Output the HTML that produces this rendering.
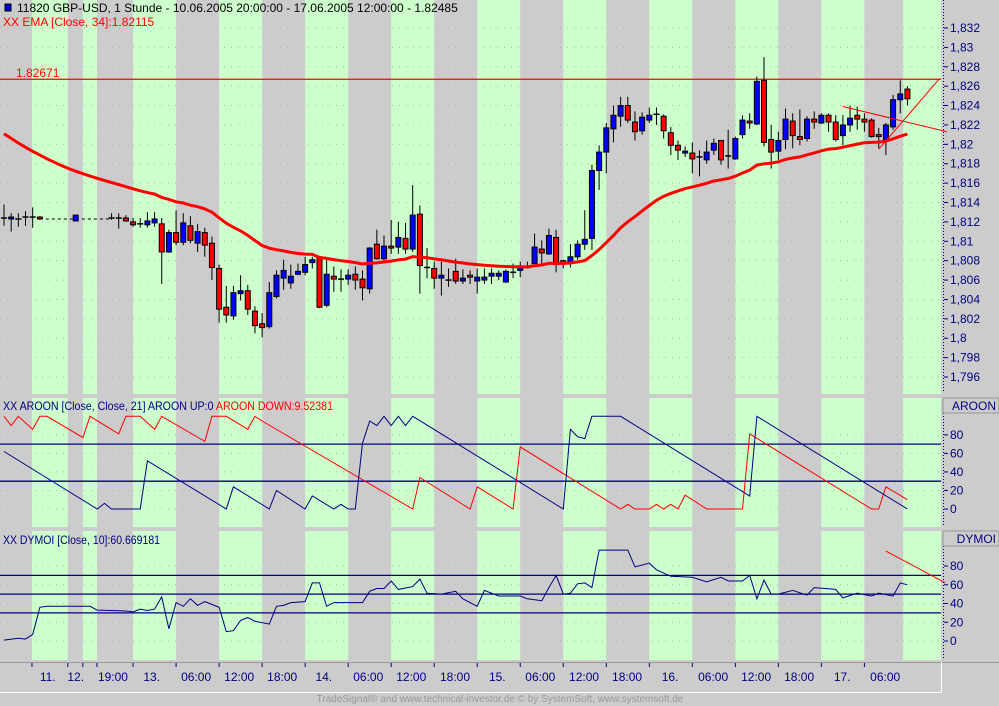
<!DOCTYPE html>
<html><head><meta charset="utf-8"><style>
html,body{margin:0;padding:0;background:#cccccc;}
svg{display:block;font-family:"Liberation Sans",sans-serif;}
</style></head><body>
<svg id="chart" width="999" height="706" viewBox="0 0 999 706" xmlns="http://www.w3.org/2000/svg">
<rect x="0" y="0" width="999" height="706" fill="#cccccc"/>
<g id="stripes"></g>
<g id="grid"></g>
<g id="main"></g>
<g id="aroon"></g>
<g id="dymoi"></g>
<g id="axes"></g>
<g id="texts">
  <rect x="5" y="4" width="6" height="7" fill="#0000cc" stroke="#000" stroke-width="1"/>
  <text x="17" y="12" font-size="12" fill="#000">11820  GBP-USD, 1 Stunde - 10.06.2005 20:00:00 - 17.06.2005 12:00:00 - 1.82485</text>
  <text x="3" y="26" font-size="12" fill="#ff0000">XX EMA [Close, 34]:1.82115</text>
  <text x="16" y="77" font-size="12" fill="#ff0000">1.82671</text>
  <text x="3" y="410" font-size="12" fill="#000080" textLength="330" lengthAdjust="spacingAndGlyphs">XX AROON [Close, Close, 21] AROON UP:0 <tspan fill="#ff0000">AROON DOWN:9.52381</tspan></text>
  <text x="3" y="544" font-size="12" fill="#000080" textLength="157" lengthAdjust="spacingAndGlyphs">XX DYMOI [Close, 10]:60.669181</text>
  <text x="500" y="702" font-size="10" fill="#999999" text-anchor="middle">TradeSignal® and www.technical-investor.de © by  SystemSoft, www.systemsoft.de</text>
</g>
</svg>
<script>
// ---------- DATA ----------
const openP = [1.8124,1.8123,1.8123,1.8125,1.8125,1.8125,null,null,null,null,1.8121,null,null,null,null,1.8124,1.8124,1.8124,1.8120,1.8118,
1.8117,1.8119,1.8118,1.8089,1.8109,1.8099,1.8116,1.8098,1.8109,1.8098,1.8072,1.8032,1.8023,1.8046,1.8049,1.8028,1.8015,1.8012,1.8043,1.8062,
1.8057,1.8066,1.8068,1.8078,1.8083,1.8034,1.8064,1.8061,1.8061,1.8066,1.8061,1.8051,1.8097,1.8082,1.8095,1.8094,1.8103,1.8092,1.8128,1.8073,
1.8072,1.8062,1.8060,1.8069,1.8059,1.8065,1.8059,1.8060,1.8064,1.8064,1.8058,1.8068,1.8070,1.8073,1.8077,1.8092,1.8087,1.8104,1.8080,1.8079,
1.8084,1.8097,1.8103,1.8173,1.8192,1.8216,1.8229,1.8240,1.8223,1.8214,1.8225,1.8231,1.8229,1.8212,1.8199,1.8191,1.8191,1.8187,1.8184,1.8194,
1.8204,1.8188,1.8185,1.8210,1.8224,1.8221,1.8266,1.8205,1.8193,1.8205,1.8224,1.8208,1.8206,1.8226,1.8222,1.8230,1.8223,1.8209,1.8220,1.8230,
1.8226,1.8225,1.8210,1.8205,1.8218,1.8246,1.8257];
const highP = [1.8138,1.8129,1.8129,1.8131,1.8135,1.8126,null,null,null,null,1.8127,null,null,null,null,1.8129,1.8129,1.8127,1.8124,1.8124,
1.8130,1.8130,1.8124,1.8112,1.8132,1.8129,1.8126,1.8118,1.8114,1.8105,1.8076,1.8054,1.8054,1.8065,1.8055,1.8033,1.8026,1.8058,1.8070,1.8081,
1.8076,1.8077,1.8084,1.8084,1.8084,1.8082,1.8074,1.8071,1.8071,1.8074,1.8070,1.8094,1.8112,1.8106,1.8122,1.8120,1.8119,1.8158,1.8137,1.8093,
1.8079,1.8079,1.8072,1.8082,1.8071,1.8070,1.8072,1.8072,1.8072,1.8070,1.8071,1.8077,1.8079,1.8079,1.8108,1.8101,1.8113,1.8112,1.8081,1.8097,
1.8101,1.8132,1.8179,1.8199,1.8222,1.8240,1.8249,1.8249,1.8234,1.8233,1.8238,1.8238,1.8231,1.8218,1.8204,1.8198,1.8202,1.8194,1.8204,1.8206,
1.8204,1.8215,1.8208,1.8230,1.8232,1.8270,1.8290,1.8220,1.8213,1.8237,1.8232,1.8236,1.8229,1.8234,1.8232,1.8232,1.8230,1.8230,1.8240,1.8239,
1.8232,1.8227,1.8217,1.8222,1.8251,1.8266,1.8260];
const lowP = [1.8116,1.8110,1.8115,1.8116,1.8114,1.8122,null,null,null,null,1.8121,null,null,null,null,1.8122,1.8113,1.8120,1.8115,1.8114,
1.8114,1.8115,1.8056,1.8088,1.8096,1.8096,1.8098,1.8089,1.8084,1.8060,1.8016,1.8016,1.8019,1.8039,1.8024,1.8005,1.8001,1.8010,1.8041,1.8050,
1.8051,1.8065,1.8065,1.8072,1.8031,1.8032,1.8048,1.8048,1.8055,1.8050,1.8039,1.8046,1.8081,1.8077,1.8087,1.8087,1.8087,1.8089,1.8046,1.8062,
1.8051,1.8044,1.8053,1.8056,1.8056,1.8056,1.8046,1.8056,1.8056,1.8060,1.8057,1.8062,1.8063,1.8072,1.8077,1.8077,1.8086,1.8068,1.8072,1.8073,
1.8081,1.8091,1.8091,1.8153,1.8170,1.8202,1.8218,1.8222,1.8204,1.8210,1.8222,1.8220,1.8206,1.8189,1.8184,1.8187,1.8170,1.8167,1.8180,1.8189,
1.8179,1.8175,1.8184,1.8206,1.8216,1.8220,1.8198,1.8175,1.8184,1.8195,1.8196,1.8199,1.8203,1.8216,1.8221,1.8213,1.8203,1.8199,1.8213,1.8215,
1.8213,1.8207,1.8196,1.8189,1.8215,1.8232,1.8240];
const closeP = [1.8124,1.8125,1.8123,1.8125,1.8125,1.8123,null,null,null,null,1.8127,null,null,null,null,1.8124,1.8124,1.8121,1.8117,1.8118,
1.8121,1.8123,1.8089,1.8109,1.8099,1.8119,1.8101,1.8110,1.8096,1.8073,1.8030,1.8024,1.8047,1.8049,1.8030,1.8013,1.8011,1.8047,1.8065,1.8070,
1.8064,1.8069,1.8076,1.8081,1.8032,1.8066,1.8061,1.8061,1.8065,1.8060,1.8052,1.8093,1.8082,1.8095,1.8093,1.8104,1.8092,1.8127,1.8075,1.8073,
1.8062,1.8065,1.8060,1.8059,1.8062,1.8063,1.8063,1.8063,1.8067,1.8067,1.8069,1.8068,1.8074,1.8073,1.8094,1.8088,1.8106,1.8076,1.8077,1.8084,
1.8097,1.8102,1.8173,1.8192,1.8217,1.8230,1.8240,1.8225,1.8213,1.8228,1.8230,1.8231,1.8214,1.8199,1.8194,1.8193,1.8185,1.8187,1.8192,1.8201,
1.8184,1.8188,1.8206,1.8225,1.8222,1.8265,1.8202,1.8192,1.8204,1.8226,1.8209,1.8205,1.8226,1.8223,1.8230,1.8223,1.8205,1.8220,1.8227,1.8226,
1.8223,1.8208,1.8208,1.8220,1.8246,1.8252,1.8247];
const emaSeed = [1.8211];
const emaPeriod = [34];
const resistance = [1.82671];
const aroonUpIdx = [0,13,14,15,19,20,31,32,37,38,42,43,46,47,48,49,50,51,52,53,54,55,56,57,78,79,80,81,82,86,104,105,126];
const aroonUpVal = [62,0,6,0,0,52,0,24,0,20,0,14,0,5,0,0,71,95,90,100,90,100,90,100,0,86,78,76,100,100,14,100,0];
const aroonDnIdx = [0,1,2,4,5,6,11,12,16,17,19,21,22,28,29,31,34,35,36,57,58,65,66,71,72,86,87,88,90,91,92,93,94,95,98,103,104,121,122,123,126];
const aroonDnVal = [100,90,100,86,100,100,77,100,81,100,100,86,100,73,100,100,86,100,95,0,34,0,24,0,67,0,5,0,0,5,0,5,0,15,0,0,81,0,0,24,10];
const dymoiIdx = [0,2,3,4,5,6,12,13,15,17,18,19,20,21,22,23,24,25,26,27,28,30,31,32,33,34,35,37,38,39,40,42,43,44,45,46,50,51,52,53,54,55,57,58,59,61,63,64,66,67,69,72,73,75,76,77,78,79,80,81,82,83,87,88,90,91,93,96,98,100,101,103,104,105,106,107,108,110,112,113,116,117,119,121,122,124,125,126];
const dymoiVal = [1,3,2,7,36,37,37,33,32.5,32,31,34,32.5,34,47,13,41,37,45,38,42,36,10,11,22,25,21,18,37,38,41,42,62,62,37,41,41,53,56,56,64,55,58,66,51,50,53,45,37,54,48,48,45,43,57,70,50,51,61,62,57,97,97,79,83,76,69,68,63,68,64,64,70,45,65,50,50,54,49,57,55,46,51,48,51,48,62,60];
const dymoiSignalIdx = [123,131.3];
const dymoiSignalVal = [96,62];
const aroonLevels = [70,30];
const dymoiLevels = [70,50,30];
const trend1Idx = [117,131.5];
const trend1Val = [1.8239,1.8213];
const trend2Idx = [122,130.5];
const trend2Val = [1.8195,1.8268];
const priceTicks = ["1,832","1,83","1,828","1,826","1,824","1,822","1,82","1,818","1,816","1,814","1,812","1,81","1,808","1,806","1,804","1,802","1,8","1,798","1,796"];
const priceTickVals = [1.832,1.830,1.828,1.826,1.824,1.822,1.820,1.818,1.816,1.814,1.812,1.810,1.808,1.806,1.804,1.802,1.800,1.798,1.796];
const oscTicks = [80,60,40,20,0];
const timeLabels = ["11.","12.","19:00","13.","06:00","12:00","18:00","14.","06:00","12:00","18:00","15.","06:00","12:00","18:00","16.","06:00","12:00","18:00","17.","06:00"];
const timeLabelBar = [6.1,10,15.2,20.6,26.8,32.8,38.8,44.6,50.8,56.8,62.9,68.8,74.8,80.9,86.9,92.9,98.9,104.9,110.9,116.9,122.9];
const sessionBars = [3.9,8.9,11,12.97,18,24,30,36,42,48,54,60,66,72,78,84,90,96,102,108,114,120,125.4];

const NS='http://www.w3.org/2000/svg';
const PLOT_R = 941;
function xOf(i){return 4 + i*7.17;}
function yP(p){return 28 + (1.832-p)/0.002*19.39;}
function yA(v){return 509 - v*0.9267;}
function yD(v){return 641 - v*0.9375;}
function mk(tag, attrs, parent){const e=document.createElementNS(NS,tag);for(const k in attrs)e.setAttribute(k,attrs[k]);parent.appendChild(e);return e;}

const gS=document.getElementById('stripes'), gG=document.getElementById('grid'), gM=document.getElementById('main'),
      gA=document.getElementById('aroon'), gD=document.getElementById('dymoi'), gX=document.getElementById('axes');

const panels=[[0,394],[398,527],[531,660]];
for(let k=0;k<sessionBars.length;k+=2){
  const x0=xOf(sessionBars[k]);
  const x1=(k+1<sessionBars.length)?Math.min(PLOT_R, xOf(sessionBars[k+1])):PLOT_R;
  panels.forEach(p=>{
    const r=mk('rect',{x:x0,y:p[0],width:x1-x0,height:p[1]-p[0],fill:'#ccffcc'},gS);
    
    
  });
}
priceTickVals.forEach(v=>{
  const l=mk('line',{x1:0,x2:PLOT_R,y1:yP(v),y2:yP(v),stroke:'#b0b8b0','stroke-dasharray':'1 6'},gG);
  
  
});
oscTicks.forEach(v=>{
  const a=mk('line',{x1:0,x2:PLOT_R,y1:yA(v),y2:yA(v),stroke:'#b0b8b0','stroke-dasharray':'1 6'},gG);
  
  
  const d=mk('line',{x1:0,x2:PLOT_R,y1:yD(v),y2:yD(v),stroke:'#b0b8b0','stroke-dasharray':'1 6'},gG);
  
  
});

const rl=mk('line',{x1:0,x2:PLOT_R,y1:yP(resistance[0]),y2:yP(resistance[0]),stroke:'#ff0000','stroke-width':1.2},gM);



const dl=mk('line',{x1:xOf(5),x2:xOf(15),y1:yP(closeP[5]),y2:yP(closeP[5]),stroke:'#000','stroke-dasharray':'3 3'},gM);



let ema=emaSeed[0], last=closeP[0], pts=[];
const alpha=2/(emaPeriod[0]+1);
for(let i=0;i<closeP.length;i++){
  if(closeP[i]!==null) last=closeP[i];
  if(i>0) ema=ema+alpha*(last-ema);
  pts.push(xOf(i).toFixed(1)+','+yP(ema).toFixed(1));
}
for(let i=0;i<openP.length;i++){
  if(openP[i]===null) continue;
  const x=xOf(i), up=closeP[i]>=openP[i];
  const w=mk('line',{x1:x,x2:x,y1:yP(highP[i]),y2:yP(lowP[i]),stroke:'#000','stroke-width':1},gM);
  
  
  const top=yP(Math.max(openP[i],closeP[i])), bot=yP(Math.min(openP[i],closeP[i]));
  if(bot-top<1.5){
    const c=mk('line',{x1:x-3,x2:x+3,y1:top,y2:top,stroke:'#000','stroke-width':1.5},gM);
    
    
  } else {
    const b=mk('rect',{x:x-2.5,y:top,width:5,height:bot-top,fill:up?'#0000ff':'#ff0000',stroke:'#000','stroke-width':1},gM);
    
    
  }
}
const emaLine=mk('polyline',{points:pts.join(' '),fill:'none',stroke:'#ff0000','stroke-width':3},gM);


const t1=mk('line',{x1:xOf(trend1Idx[0]),y1:yP(trend1Val[0]),x2:xOf(trend1Idx[1]),y2:yP(trend1Val[1]),stroke:'#ff0000','stroke-width':1},gM);


const t2=mk('line',{x1:xOf(trend2Idx[0]),y1:yP(trend2Val[0]),x2:xOf(trend2Idx[1]),y2:yP(trend2Val[1]),stroke:'#ff0000','stroke-width':1},gM);



aroonLevels.forEach(v=>{
  const l=mk('line',{x1:0,x2:PLOT_R,y1:yA(v),y2:yA(v),stroke:'#000080','stroke-width':1.3},gA);
  
  
});
function poly(idx,val,yf,color,parent,name){
  const p=idx.map((i,k)=>xOf(i).toFixed(1)+','+yf(val[k]).toFixed(1)).join(' ');
  const e=mk('polyline',{points:p,fill:'none',stroke:color,'stroke-width':1},parent);
  
  
}
poly(aroonDnIdx,aroonDnVal,yA,'#ff0000',gA,'aroon-down-line');
poly(aroonUpIdx,aroonUpVal,yA,'#000080',gA,'aroon-up-line');
dymoiLevels.forEach(v=>{
  const l=mk('line',{x1:0,x2:PLOT_R,y1:yD(v),y2:yD(v),stroke:'#000080','stroke-width':1.3},gD);
  
  
});
poly(dymoiIdx,dymoiVal,yD,'#000080',gD,'dymoi-line');
poly(dymoiSignalIdx,dymoiSignalVal,yD,'#ff0000',gD,'dymoi-signal-line');

[[0,393],[398,526],[546,660]].forEach(p=>{
  const l=mk('line',{x1:943.5,x2:943.5,y1:p[0],y2:p[1],stroke:'#000080','stroke-dasharray':'1 2'},gX);
  
  
});
priceTicks.forEach((t,k)=>{
  const y=yP(priceTickVals[k]);
  const tk=mk('line',{x1:944,x2:948,y1:y,y2:y,stroke:'#000080'},gX);
  
  
  const tx=mk('text',{x:950,y:y+4,'font-size':12,fill:'#000080'},gX);
  
  
  tx.textContent=t;
});
oscTicks.forEach(v=>{
  [[yA,'aroon'],[yD,'dymoi']].forEach(([f,n])=>{
    const y=f(v);
    const tk=mk('line',{x1:944,x2:948,y1:y,y2:y,stroke:'#000080'},gX);
    
    
    const tx=mk('text',{x:950,y:y+4,'font-size':12,fill:'#000080'},gX);
    
    
    tx.textContent=String(v);
  });
});
[['AROON',398],['DYMOI',531]].forEach(([name,y])=>{
  const r=mk('rect',{x:943,y:y,width:56,height:15,fill:'#cccccc',stroke:'#999999','stroke-width':1},gX);
  
  
  const t=mk('text',{x:996,y:y+12,'font-size':12,fill:'#000080','text-anchor':'end'},gX);
  
  
  t.textContent=name;
});
const ax=mk('line',{x1:0,x2:999,y1:662.5,y2:662.5,stroke:'#999999','stroke-width':1},gX);


const ax2=mk('line',{x1:0,x2:941,y1:692.5,y2:692.5,stroke:'#ffffff','stroke-width':1},gX);


const ax3=mk('line',{x1:941.5,x2:941.5,y1:662,y2:693,stroke:'#ffffff','stroke-width':1},gX);


sessionBars.slice(0,sessionBars.length-1).forEach(b=>{
  const x=xOf(b);
  const tk=mk('line',{x1:x,x2:x,y1:663,y2:667,stroke:'#000080','stroke-width':1},gX);
  
  
});
timeLabels.forEach((t,k)=>{
  const tx=mk('text',{x:xOf(timeLabelBar[k]),y:681,'font-size':12,fill:'#000080','text-anchor':'middle'},gX);
  
  
  tx.textContent=t;
});
</script>
</body></html>
